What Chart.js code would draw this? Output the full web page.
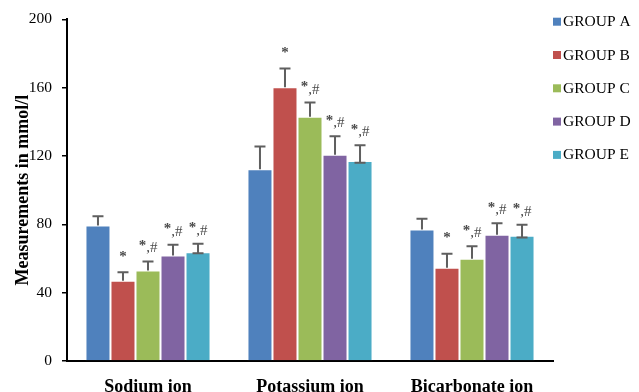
<!DOCTYPE html>
<html>
<head>
<meta charset="utf-8">
<script src="https://cdn.jsdelivr.net/npm/chart.js@4/dist/chart.umd.min.js"></script>
<style>
  html, body { margin: 0; padding: 0; background: #fff; }
  #wrap { width: 639px; height: 392px; }
</style>
</head>
<body>
<div id="wrap"><canvas id="c" width="639" height="392"></canvas></div>
<script>
// ---- Data ----
const categories = ["Sodium ion", "Potassium ion", "Bicarbonate ion"];
const groupLabels = ["GROUP A", "GROUP B", "GROUP C", "GROUP D", "GROUP E"];
const groupA = [79.3, 112.3, 77.0];
const groupB = [47.0, 160.3, 54.6];
const groupC = [53.0, 143.0, 59.9];
const groupD = [61.8, 120.7, 73.9];
const groupE = [63.6, 117.0, 73.3];
// upper error (SD) per group
const errA = [5.4, 13.3, 6.2];
const errB = [5.0, 10.9, 8.2];
const errC = [5.3, 8.3, 7.3];
const errD = [6.2, 10.9, 6.7];
const errE = [5.0, 9.3, 6.4];
// lower error (visible only for group E)
const lowA = [0, 0, 0];
const lowB = [0, 0, 0];
const lowC = [0, 0, 0];
const lowD = [0, 0, 0];
const lowE = [0.6, 1.0, 1.0];
// significance marks
const markA = ["", "", ""];
const markB = ["*", "*", "*"];
const markC = ["*,#", "*,#", "*,#"];
const markD = ["*,#", "*,#", "*,#"];
const markE = ["*,#", "*,#", "*,#"];
const yTicks = [0, 40, 80, 120, 160, 200];
const yTitle = "Measurements in mmol/l";

const colors = ["#4F81BD", "#C0504D", "#9BBB59", "#8064A2", "#4BACC6"];
const values = [groupA, groupB, groupC, groupD, groupE];
const errs = [errA, errB, errC, errD, errE];
const lows = [lowA, lowB, lowC, lowD, lowE];
const marks = [markA, markB, markC, markD, markE];

const SERIF = "'Liberation Serif', 'Times New Roman', serif";

function drawMark(ctx, m, x, baseY) {
  const starFont = 'bold 15px ' + SERIF;
  const restFont = '15px ' + SERIF;
  ctx.font = starFont;
  const wStar = ctx.measureText('*').width;
  const rest = m.slice(1);
  ctx.font = restFont;
  const wRest = rest ? ctx.measureText(rest).width : 0;
  const total = wStar + wRest;
  let sx = x - total / 2;
  ctx.fillStyle = '#4a4a4a';
  ctx.textAlign = 'left';
  ctx.textBaseline = 'alphabetic';
  ctx.font = starFont;
  ctx.fillText('*', sx, baseY - 2.5);
  if (rest) {
    ctx.font = restFont;
    ctx.fillText(rest, sx + wStar, baseY);
  }
}

const errorBarPlugin = {
  id: 'errorBars',
  afterDatasetsDraw(chart) {
    const ctx = chart.ctx;
    const yScale = chart.scales.y;
    chart.data.datasets.forEach((ds, di) => {
      const meta = chart.getDatasetMeta(di);
      meta.data.forEach((bar, i) => {
        const v = ds.data[i];
        const top = yScale.getPixelForValue(v + errs[di][i]);
        const base = yScale.getPixelForValue(v - lows[di][i]);
        const x = bar.x;
        const half = 5.5;
        ctx.save();
        ctx.strokeStyle = '#5f5f5f';
        ctx.lineWidth = 2;
        ctx.beginPath();
        ctx.moveTo(x, base);
        ctx.lineTo(x, top);
        ctx.moveTo(x - half, top);
        ctx.lineTo(x + half, top);
        if (lows[di][i] > 0) {
          ctx.moveTo(x - half, base);
          ctx.lineTo(x + half, base);
        }
        ctx.stroke();
        const m = marks[di][i];
        if (m) drawMark(ctx, m, x, top - 9);
        ctx.restore();
      });
    });
  }
};

const legendPlugin = {
  id: 'customLegend',
  afterDraw(chart) {
    const ctx = chart.ctx;
    ctx.save();
    chart.data.datasets.forEach((ds, i) => {
      const cy = 21.7 + i * 33.3;
      ctx.fillStyle = ds.backgroundColor;
      ctx.fillRect(553, cy - 4, 8, 8);
      ctx.fillStyle = '#000';
      ctx.font = '15.5px ' + SERIF;
      ctx.textAlign = 'left';
      ctx.textBaseline = 'middle';
      ctx.fillText(ds.label, 563, cy + 0.5);
    });
    ctx.restore();
  }
};

new Chart(document.getElementById('c'), {
  type: 'bar',
  data: {
    labels: categories,
    datasets: groupLabels.map((g, i) => ({
      label: g,
      data: values[i],
      backgroundColor: colors[i],
      borderColor: 'rgba(255,255,255,0.6)',
      borderWidth: 1,
      borderSkipped: 'bottom',
      categoryPercentage: 0.772,
      barPercentage: 1.0
    }))
  },
  options: {
    responsive: false,
    animation: false,
    devicePixelRatio: 1,
    layout: { padding: { left: 0, right: 86, top: 18, bottom: 0 } },
    plugins: {
      legend: { display: false },
      tooltip: { enabled: false }
    },
    scales: {
      x: {
        grid: { display: false },
        border: { display: true, color: '#000', width: 2 },
        ticks: {
          color: '#000',
          font: { family: SERIF, size: 18, weight: 'bold' },
          padding: 8
        },
        afterFit(s) { s.height = 31; }
      },
      y: {
        min: 0,
        max: 200,
        afterBuildTicks(s) { s.ticks = yTicks.map(v => ({ value: v })); },
        grid: { drawOnChartArea: false, drawTicks: true, tickLength: 5, color: '#000', lineWidth: 1.5 },
        border: { display: true, color: '#000', width: 2 },
        ticks: {
          color: '#000',
          font: { family: SERIF, size: 15.5 },
          padding: 10
        },
        title: {
          display: true,
          text: yTitle,
          color: '#000',
          font: { family: SERIF, size: 18, weight: 'bold' },
          padding: { top: 13, bottom: 0 }
        },
        afterFit(s) { s.width = 67; }
      }
    }
  },
  plugins: [errorBarPlugin, legendPlugin]
});
</script>
</body>
</html>
